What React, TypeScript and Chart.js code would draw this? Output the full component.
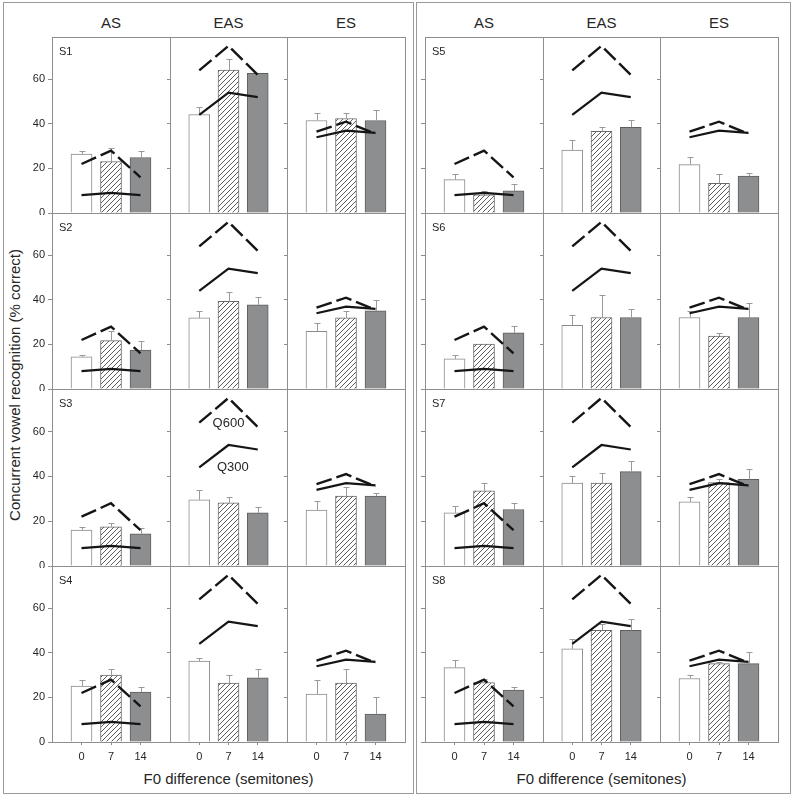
import React, { useEffect, useRef } from 'react';
import { Chart, registerables } from 'chart.js';

Chart.register(...registerables);

const subjects = ['S1', 'S2', 'S3', 'S4', 'S5', 'S6', 'S7', 'S8'];
const conditions = ['AS', 'EAS', 'ES'];
const f0Labels = ['0', '7', '14'];
const yTickValues = [0, 20, 40, 60];
const yMax = 79;
const yTitle = 'Concurrent vowel recognition (% correct)';
const xTitle = 'F0 difference (semitones)';

// reference lines per condition [AS, EAS, ES], points at F0 0, 7, 14
const q300 = [[8, 9, 8], [44, 54, 52], [34, 37, 36]];
const q600 = [[22, 28, 16], [64, 75, 62], [36.5, 41, 35.5]];

// means and error (upper) per condition [AS, EAS, ES] x [0, 7, 14]
const s1Mean = [[26.5, 23.1, 24.9], [44.2, 64.2, 62.7], [41.5, 42.4, 41.5]];
const s1Err = [[1.2, 6, 2.8], [3.5, 4.8, 0], [3.2, 2.7, 4.7]];
const s2Mean = [[14.4, 21.7, 17.5], [31.9, 39.3, 37.8], [25.9, 31.9, 35.1]];
const s2Err = [[0.7, 4.5, 3.9], [3.2, 4.4, 3.5], [3.8, 3.3, 5]];
const s3Mean = [[16, 17.5, 14.4], [29.5, 28.2, 23.7], [25, 31.2, 31.2]];
const s3Err = [[1.5, 1.7, 2.4], [4.2, 2.7, 2.8], [4.1, 4.2, 1.5]];
const s4Mean = [[25.1, 30, 22.4], [36.3, 26.4, 28.8], [21.5, 26.4, 12.5]];
const s4Err = [[2.7, 2.7, 2.5], [1.3, 3.7, 3.9], [6.4, 6.3, 7.6]];
const s5Mean = [[15, 8.2, 9.9], [28.2, 36.7, 38.5], [21.7, 13.3, 16.6]];
const s5Err = [[2.7, 1.7, 3], [4.5, 1.7, 3.2], [3.3, 4.4, 1.5]];
const s6Mean = [[13.5, 20.2, 25.2], [28.6, 32.1, 32.1], [32.1, 23.7, 32.1]];
const s6Err = [[1.8, 0, 3], [4.5, 10.1, 3.6], [3.1, 1.5, 6.6]];
const s7Mean = [[23.7, 33.6, 25.2], [37, 37, 42.1], [28.6, 37.2, 38.7]];
const s7Err = [[3.3, 3.6, 3], [3.3, 4.7, 4.7], [2, 1.8, 4.5]];
const s8Mean = [[33.4, 26.7, 23.3], [41.8, 50.1, 50.1], [28.5, 35.2, 35.2]];
const s8Err = [[3.5, 1.7, 1.6], [4.3, 3, 5], [1.6, 0.5, 5.1]];

const allMeans = [s1Mean, s2Mean, s3Mean, s4Mean, s5Mean, s6Mean, s7Mean, s8Mean];
const allErrs = [s1Err, s2Err, s3Err, s4Err, s5Err, s6Err, s7Err, s8Err];

const FONT = '"Liberation Sans", Arial, Helvetica, sans-serif';
const halfX = [52, 425];
const colEdges = [0, 118, 235, 353];
const rowEdges = [37, 213, 389, 566, 742];
const BOX = '#8e8e8e';
const TEXT = '#262626';

type PanelDef = {
  key: string; hf: number; r: number; c: number; s: number;
  x: number; y: number; w: number; h: number;
  padL: number; padB: number; padT: number; padR: number;
};

function buildPanels(): PanelDef[] {
  const out: PanelDef[] = [];
  for (let hf = 0; hf < 2; hf++) {
    for (let r = 0; r < 4; r++) {
      for (let c = 0; c < 3; c++) {
        const s = hf * 4 + r;
        const x = halfX[hf] + colEdges[c];
        const w = colEdges[c + 1] - colEdges[c];
        const y = rowEdges[r];
        const h = rowEdges[r + 1] - rowEdges[r];
        out.push({
          key: `${s}-${c}`, hf, r, c, s, x, y, w, h,
          padL: hf === 0 && c === 0 ? 48 : 5,
          padB: r === 3 ? 28 : 2,
          padT: 2, padR: 2,
        });
      }
    }
  }
  return out;
}

function makeHatch(): CanvasPattern | string {
  const cv = document.createElement('canvas');
  cv.width = 5; cv.height = 5;
  const g = cv.getContext('2d');
  if (!g) return '#ddd';
  g.fillStyle = '#ffffff';
  g.fillRect(0, 0, 5, 5);
  g.strokeStyle = '#4a4a4a';
  g.lineWidth = 0.9;
  g.beginPath();
  g.moveTo(-1, 6); g.lineTo(6, -1);
  g.moveTo(-1, 1); g.lineTo(1, -1);
  g.moveTo(4, 6); g.lineTo(6, 4);
  g.stroke();
  return g.createPattern(cv, 'repeat') || '#ddd';
}

function makeConfig(p: PanelDef, hatch: CanvasPattern | string): any {
  const means = allMeans[p.s][p.c];
  const errs = allErrs[p.s][p.c];
  const showY = p.hf === 0 && p.c === 0;
  const showX = p.r === 3;
  const deco = {
    id: 'deco' + p.key,
    beforeDatasetsDraw(chart: any) {
      const a = chart.chartArea;
      const ctx = chart.ctx;
      ctx.save();
      ctx.strokeStyle = BOX;
      ctx.lineWidth = 1;
      ctx.strokeRect(Math.round(a.left) + 0.5, Math.round(a.top) + 0.5,
        Math.round(a.right - a.left), Math.round(a.bottom - a.top));
      ctx.restore();
    },
    afterDatasetDraw(chart: any, args: any) {
      if (args.index !== 0) return;
      const ctx = chart.ctx;
      const xs = chart.scales.x;
      const ys = chart.scales.y;
      ctx.save();
      ctx.strokeStyle = '#9a9a9a';
      ctx.lineWidth = 1;
      means.forEach((m: number, i: number) => {
        const e = errs[i];
        if (!e) return;
        const px = Math.round(xs.getPixelForValue(i)) + 0.5;
        const y1 = ys.getPixelForValue(m);
        const y2 = Math.round(ys.getPixelForValue(m + e)) + 0.5;
        ctx.beginPath();
        ctx.moveTo(px, y1);
        ctx.lineTo(px, y2);
        ctx.moveTo(px - 3, y2);
        ctx.lineTo(px + 3, y2);
        ctx.stroke();
      });
      ctx.restore();
    },
    afterDraw(chart: any) {
      const a = chart.chartArea;
      const ctx = chart.ctx;
      ctx.save();
      ctx.fillStyle = TEXT;
      if (p.c === 0) {
        ctx.font = `11px ${FONT}`;
        ctx.textAlign = 'left';
        ctx.textBaseline = 'middle';
        ctx.fillText(subjects[p.s], a.left + 7, a.top + 15);
      }
      if (p.s === 2 && p.c === 1) {
        const xs = chart.scales.x;
        const ys = chart.scales.y;
        ctx.font = `13px ${FONT}`;
        ctx.textAlign = 'center';
        ctx.textBaseline = 'middle';
        ctx.fillText('Q600', xs.getPixelForValue(1), ys.getPixelForValue(63.8));
        ctx.fillText('Q300', xs.getPixelForValue(1.15), ys.getPixelForValue(44));
      }
      ctx.restore();
    },
  };
  const pts = (arr: number[]) => arr.map((v, i) => ({ x: i, y: v }));
  return {
    type: 'bar',
    data: {
      datasets: [
        {
          type: 'bar',
          data: pts(means),
          backgroundColor: ['#ffffff', hatch, '#8d8e90'],
          borderColor: ['#8a8a8a', '#6a6a6a', '#5e5e5e'],
          borderWidth: 1,
          barThickness: 21,
          order: 2,
        },
        {
          type: 'line',
          data: pts(q300[p.c]),
          borderColor: '#151515',
          borderWidth: 2.2,
          pointRadius: 0,
          fill: false,
          tension: 0,
          order: 1,
        },
        {
          type: 'line',
          data: pts(q600[p.c]),
          borderColor: '#151515',
          borderWidth: 2.4,
          borderDash: [16, 5],
          pointRadius: 0,
          fill: false,
          tension: 0,
          order: 0,
        },
      ],
    },
    options: {
      responsive: false,
      animation: false,
      events: [],
      layout: { padding: { top: p.padT, right: p.padR, left: 0, bottom: 0 } },
      plugins: { legend: { display: false }, tooltip: { enabled: false }, title: { display: false } },
      scales: {
        x: {
          type: 'linear',
          min: -1,
          max: 3,
          offset: false,
          afterBuildTicks: (s: any) => { s.ticks = [0, 1, 2].map((v) => ({ value: v })); },
          afterFit: (s: any) => {
            s.height = p.padB;
            s.paddingLeft = 0; s.paddingRight = 0; s.paddingTop = 0; s.paddingBottom = 0;
          },
          grid: { display: showX, drawOnChartArea: false, drawTicks: true, tickLength: 3, color: BOX, offset: false },
          border: { display: false },
          ticks: {
            display: showX,
            autoSkip: false,
            maxRotation: 0,
            padding: 5,
            color: TEXT,
            font: { size: 11, family: FONT },
            callback: (v: any) => f0Labels[Math.round(Number(v))] ?? '',
          },
        },
        y: {
          type: 'linear',
          min: 0,
          max: yMax,
          afterBuildTicks: (s: any) => { s.ticks = yTickValues.map((v) => ({ value: v })); },
          afterFit: (s: any) => {
            s.width = p.padL;
            s.paddingLeft = 0; s.paddingRight = 0; s.paddingTop = 0; s.paddingBottom = 0;
          },
          grid: { display: true, drawOnChartArea: false, drawTicks: true, tickLength: p.c === 0 ? 4 : 3, color: BOX },
          border: { display: false },
          ticks: {
            display: showY,
            padding: 3,
            color: TEXT,
            font: { size: 11, family: FONT },
            callback: (v: any) => String(v),
          },
        },
      },
    },
    plugins: [deco],
  };
}

export default function App() {
  const panels = buildPanels();
  const refs = useRef<(HTMLCanvasElement | null)[]>([]);

  useEffect(() => {
    const hatch = makeHatch();
    const charts: Chart[] = [];
    panels.forEach((p, i) => {
      const cv = refs.current[i];
      if (cv) charts.push(new Chart(cv, makeConfig(p, hatch)));
    });
    return () => charts.forEach((c) => c.destroy());
  }, []);

  const colCenters = (hf: number) => [0, 1, 2].map((c) => halfX[hf] + (colEdges[c] + colEdges[c + 1]) / 2);

  return (
    <div style={{ position: 'absolute', left: 0, top: 0, width: 793, height: 798, background: '#fff', fontFamily: FONT, color: TEXT, overflow: 'hidden' }}>
      <div style={{ position: 'absolute', left: 3, top: 2, width: 411, height: 792, border: '1px solid #9a9a9a', boxSizing: 'border-box' }} />
      <div style={{ position: 'absolute', left: 416, top: 2, width: 375, height: 792, border: '1px solid #9a9a9a', boxSizing: 'border-box' }} />
      {[0, 1].map((hf) =>
        colCenters(hf).map((cx, c) => (
          <div key={`t${hf}${c}`} style={{ position: 'absolute', left: cx - 40, top: 14, width: 80, textAlign: 'center', fontSize: 15, lineHeight: '18px' }}>
            {conditions[c]}
          </div>
        ))
      )}
      {[0, 1].map((hf) => (
        <div key={`x${hf}`} style={{ position: 'absolute', left: halfX[hf] + colEdges[3] / 2 - 150, top: 770, width: 300, textAlign: 'center', fontSize: 15, lineHeight: '18px' }}>
          {xTitle}
        </div>
      ))}
      <div style={{ position: 'absolute', left: 15 - 200, top: 385 - 9, width: 400, textAlign: 'center', fontSize: 15, lineHeight: '18px', transform: 'rotate(-90deg)', transformOrigin: '50% 50%' }}>
        {yTitle}
      </div>
      {panels.map((p, i) => {
        const W = p.w + p.padL + p.padR;
        const H = p.h + p.padT + p.padB;
        return (
          <canvas
            key={p.key}
            ref={(el) => { refs.current[i] = el; }}
            width={W}
            height={H}
            style={{ position: 'absolute', left: p.x - p.padL, top: p.y - p.padT, width: W, height: H }}
          />
        );
      })}
    </div>
  );
}
